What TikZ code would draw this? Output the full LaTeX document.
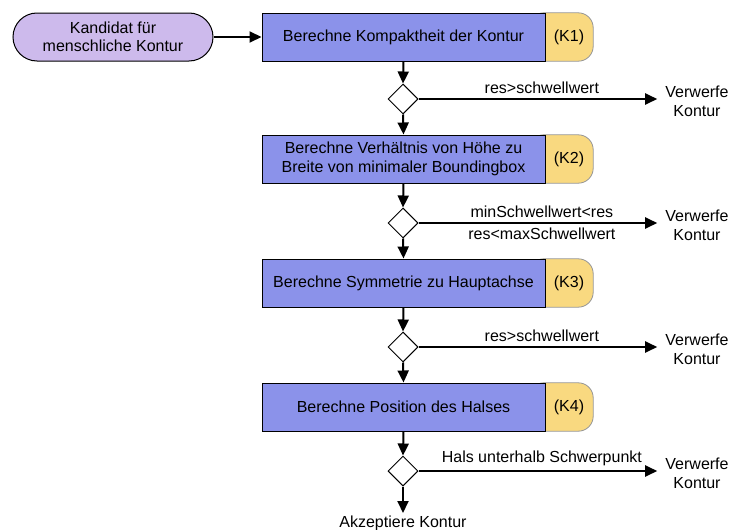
\documentclass[tikz,border=0pt]{standalone}
\usepackage{fontspec}
\setmainfont{Liberation Sans}
\usetikzlibrary{shapes.geometric,shapes.misc,arrows.meta,backgrounds}
\definecolor{boxblue}{RGB}{139,146,234}
\definecolor{startpurple}{RGB}{205,186,236}
\definecolor{tagyellow}{RGB}{249,217,128}
\definecolor{taggray}{RGB}{150,150,150}
\tikzset{
  txt/.style={font=\fontsize{16}{19}\selectfont, align=center, inner sep=0pt},
  startbox/.style={txt, rounded rectangle, draw=black, line width=1pt, fill=startpurple,
    minimum width=200pt, minimum height=48pt, font=\fontsize{16}{17.5}\selectfont},
  stepbox/.style={txt, rectangle, draw=black, line width=1pt, fill=boxblue,
    minimum width=283pt, minimum height=48pt},
  tagtext/.style={txt, minimum width=48pt, minimum height=48pt},
  tagshape/.style={fill=tagyellow, draw=taggray, line width=0.8pt, rounded corners=15pt},
  dia/.style={diamond, aspect=1, draw=black, fill=white, line width=1pt,
    minimum width=30pt, minimum height=30pt, inner sep=0pt},
  arr/.style={line width=2pt, -{Triangle[length=12pt,width=11pt]}},
  cond/.style={txt, inner sep=2pt},
}
\begin{document}
\begin{tikzpicture}[x=1pt,y=-1pt]
\useasboundingbox (0,0) rectangle (729,530);

% start
\node[startbox] (start) at (113,37) {Kandidat für\\menschliche Kontur};

% step boxes
\node[stepbox] (k1) at (403.5,37) {Berechne Kompaktheit der Kontur};
\node[tagtext] (t1) at (569,37) {(K1)};
\node[stepbox] (k2) at (403.5,159) {Berechne Verhältnis von Höhe zu\\Breite von minimaler Boundingbox};
\node[tagtext] (t2) at (569,159) {(K2)};
\node[stepbox] (k3) at (403.5,283) {Berechne Symmetrie zu Hauptachse};
\node[tagtext] (t3) at (569,283) {(K3)};
\node[stepbox] (k4) at (403.5,407) {Berechne Position des Halses};
\node[tagtext] (t4) at (569,407) {(K4)};

\begin{scope}[on background layer]
  \foreach \t in {t1,t2,t3,t4}{
    \filldraw[tagshape] ([xshift=-16pt]\t.north west) -- (\t.north east) -- (\t.south east) -- ([xshift=-16pt]\t.south west) -- cycle;
  }
\end{scope}

% decisions
\node[dia] (d1) at (403,99) {};
\node[dia] (d2) at (403,223) {};
\node[dia] (d3) at (403,347) {};
\node[dia] (d4) at (403,471) {};

% reject texts
\node[txt] (r1) at (697,101) {Verwerfe\\Kontur};
\node[txt] (r2) at (697,225) {Verwerfe\\Kontur};
\node[txt] (r3) at (697,349) {Verwerfe\\Kontur};
\node[txt] (r4) at (697,473) {Verwerfe\\Kontur};

\node[txt, anchor=north] (acc) at (403,516) {Akzeptiere Kontur};

% connectors
\draw[arr] (start.east) -- (k1.west);
\draw[arr] (k1.south) -- (d1.north);
\draw[arr] (d1.south) -- (k2.north);
\draw[arr] (k2.south) -- (d2.north);
\draw[arr] (d2.south) -- (k3.north);
\draw[arr] (k3.south) -- (d3.north);
\draw[arr] (d3.south) -- (k4.north);
\draw[arr] (k4.south) -- (d4.north);
\draw[arr, shorten >=3pt] (d4.south) -- (acc.north);

\draw[arr, shorten >=8pt] (d1.east) -- (d1.east -| r1.west) node[cond, midway, above=2pt] (c1) {res>schwellwert};
\draw[arr, shorten >=8pt] (d2.east) -- (d2.east -| r2.west)
   node[cond, midway, above=2pt] (c2a) {minSchwellwert<res}
   node[cond, midway, below=2pt] (c2b) {res<maxSchwellwert};
\draw[arr, shorten >=8pt] (d3.east) -- (d3.east -| r3.west) node[cond, midway, above=2pt] (c3) {res>schwellwert};
\draw[arr, shorten >=8pt] (d4.east) -- (d4.east -| r4.west) node[cond, midway, above=2pt] (c4) {Hals unterhalb Schwerpunkt};
\end{tikzpicture}
\end{document}
